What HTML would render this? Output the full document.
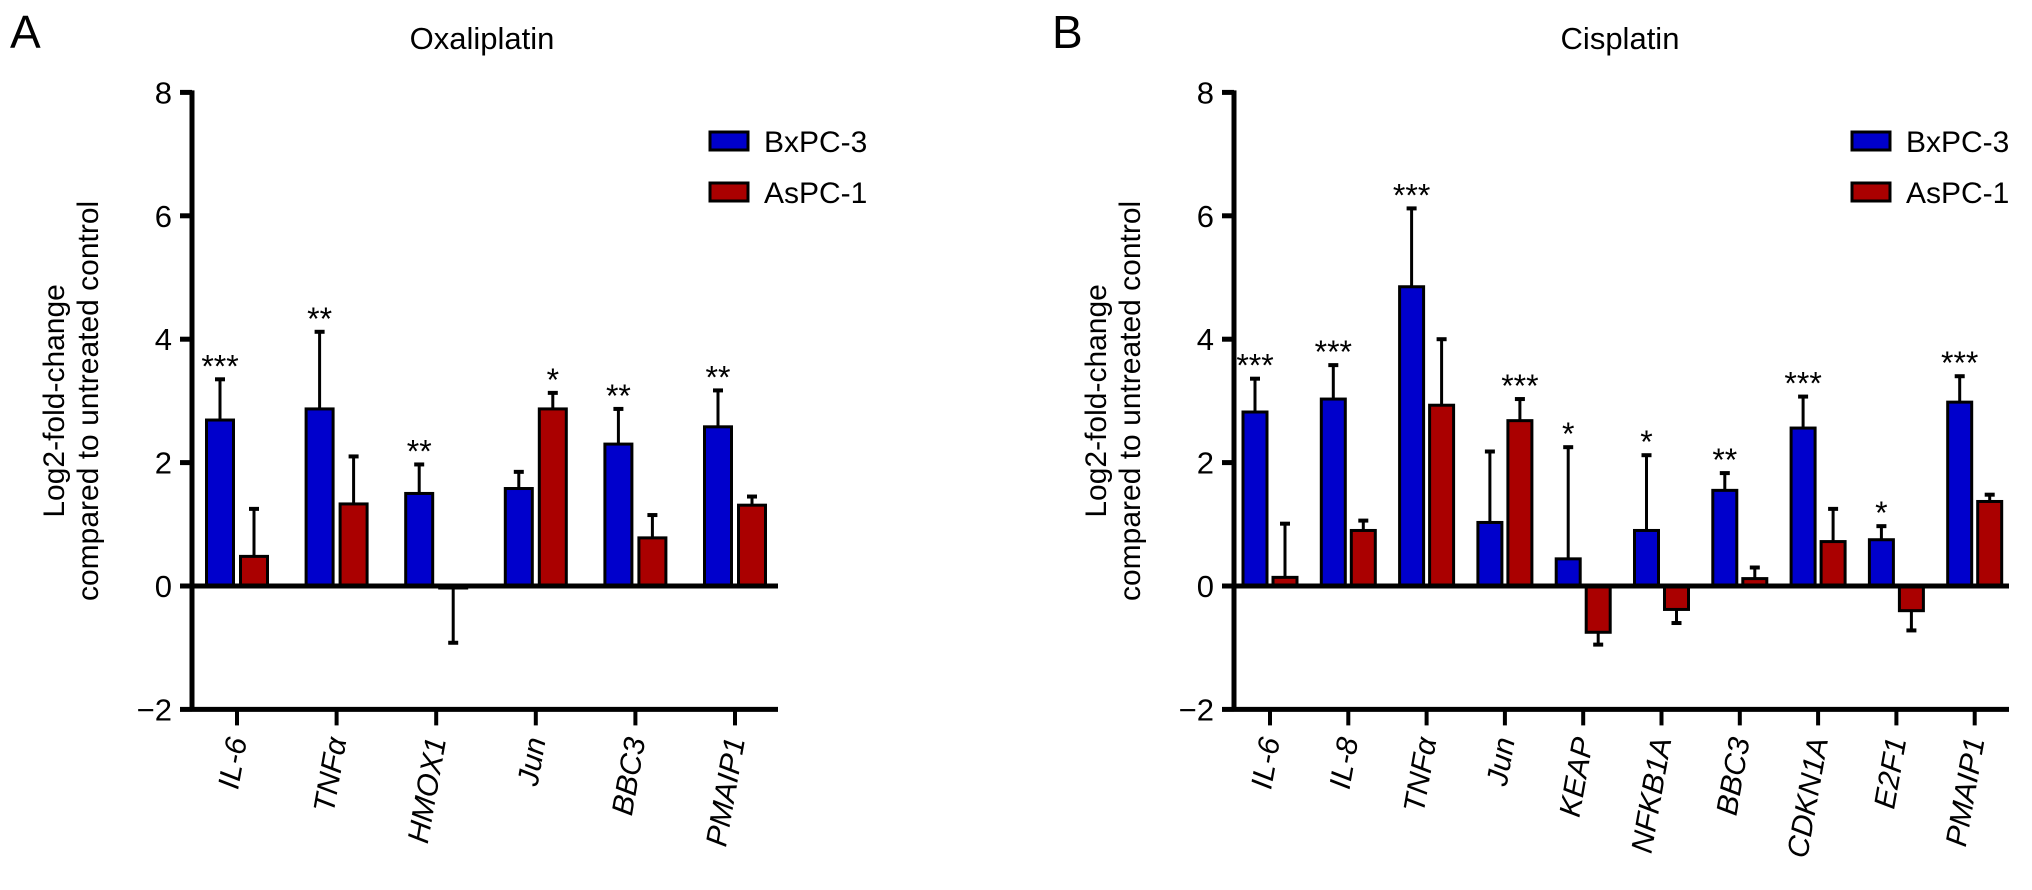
<!DOCTYPE html>
<html><head><meta charset="utf-8"><style>
html,body{margin:0;padding:0;background:#fff;}
svg{display:block;font-family:"Liberation Sans",Arial,sans-serif;}
</style></head><body>
<svg id="fig" width="2032" height="890" viewBox="0 0 2032 890" xmlns="http://www.w3.org/2000/svg"></svg>
<script>
const catsA = ["IL-6","TNF\u03b1","HMOX1","Jun","BBC3","PMAIP1"];
const blueA = [2.69,2.87,1.50,1.58,2.30,2.58];
const blueErrA = [3.35,4.12,1.97,1.85,2.87,3.17];
const redA = [0.48,1.33,-0.02,2.87,0.78,1.31];
const redErrA = [1.25,2.10,-0.92,3.13,1.15,1.45];
const starsA = ["***","**","**","","**","**"];
const starsRedA = ["","","","*","",""];

const catsB = ["IL-6","IL-8","TNF\u03b1","Jun","KEAP","NFKB1A","BBC3","CDKN1A","E2F1","PMAIP1"];
const blueB = [2.82,3.03,4.85,1.03,0.44,0.90,1.55,2.56,0.75,2.98];
const blueErrB = [3.36,3.58,6.12,2.18,2.25,2.12,1.83,3.07,0.97,3.40];
const redB = [0.14,0.90,2.93,2.68,-0.75,-0.38,0.12,0.72,-0.40,1.37];
const redErrB = [1.01,1.06,4.00,3.03,-0.95,-0.60,0.30,1.25,-0.72,1.48];
const starsB = ["***","***","***","","*","*","**","***","*","***"];
const starsRedB = ["","","","***","","","","","",""];

const yTicks = [-2,0,2,4,6,8];
const legendLabels = ["BxPC-3","AsPC-1"];

const NS="http://www.w3.org/2000/svg";
const svg=document.getElementById('fig');
function mk(tag,attrs,parent){const e=document.createElementNS(NS,tag);for(const k in attrs)e.setAttribute(k,attrs[k]);(parent||svg).appendChild(e);return e;}

function panel(p){
  const g=mk('g',{});
  
  
  const y=v=>p.y0-(v)*p.unit;
  const cx=i=>p.x0+i*p.step;
  const L=mk('text',{x:p.letterX,y:48,'font-size':46},g);L.textContent=p.letter;
  
  const T=mk('text',{x:p.titleX,y:49,'font-size':31,'text-anchor':'middle'},g);T.textContent=p.title;
  
  const yl=mk('text',{transform:`translate(${p.axX-120},${y(3)}) rotate(-90)`,'font-size':30,'text-anchor':'middle'},g);
  
  const t1=mk('tspan',{x:0,dy:-8},yl);t1.textContent='Log2-fold-change';
  const t2=mk('tspan',{x:0,dy:34},yl);t2.textContent='compared to untreated control';
  p.cats.forEach((c,i)=>{
    const c0=cx(i);
    [[p.blue,p.blueErr,'#0000cc',-1,p.stars],[p.red,p.redErr,'#aa0000',1,p.starsRed]].forEach(([vals,errs,col,side,st],k)=>{
      const v=vals[i],e=errs[i];
      const bx=side<0?c0-p.gap/2-p.bw:c0+p.gap/2;
      const top=Math.min(y(v),y(0)),h=Math.abs(y(v)-y(0));
      const mid=bx+p.bw/2;
      const el=mk('line',{x1:mid,x2:mid,y1:y(v),y2:y(e),stroke:'#000','stroke-width':3},g);
      
      const cap=mk('line',{x1:mid-5,x2:mid+5,y1:y(e),y2:y(e),stroke:'#000','stroke-width':4},g);
      
      const r=mk('rect',{x:bx,y:top,width:p.bw,height:Math.max(h,2),fill:col,stroke:'#000','stroke-width':3},g);
      
      
      if(st[i]){
        const s=mk('text',{x:mid,y:y(Math.max(e,v))-2,'font-size':32,'text-anchor':'middle'},g);
        s.textContent=st[i];
        
      }
    });
    const tk=mk('line',{x1:c0,x2:c0,y1:y(-2),y2:y(-2)+16,stroke:'#000','stroke-width':4},g);
    
    const lb=mk('text',{transform:`translate(${c0+10},${y(-2)+30}) rotate(-80)`,'font-size':30,'font-style':'italic','text-anchor':'end'},g);
    lb.textContent=c;
    
  });
  const za=mk('line',{x1:p.axX,x2:p.axEnd,y1:y(0),y2:y(0),stroke:'#000','stroke-width':5},g);
  
  const xa=mk('line',{x1:p.axX,x2:p.axEnd,y1:y(-2),y2:y(-2),stroke:'#000','stroke-width':5},g);
  
  const ya=mk('line',{x1:p.axX,x2:p.axX,y1:y(8)-2,y2:y(-2)+2,stroke:'#000','stroke-width':5},g);
  
  yTicks.forEach(t=>{
    const l=mk('line',{x1:p.axX-12,x2:p.axX,y1:y(t),y2:y(t),stroke:'#000','stroke-width':5},g);
    
    const tx=mk('text',{x:p.axX-20,y:y(t)+11,'font-size':31,'text-anchor':'end'},g);
    tx.textContent=t<0?'\u2212'+(-t):String(t);
    
  });
  ['#0000cc','#aa0000'].forEach((col,i)=>{
    const ly=p.legY+i*51;
    const r=mk('rect',{x:p.legX,y:ly,width:38,height:18,fill:col,stroke:'#000','stroke-width':3},g);
    
    const tx=mk('text',{x:p.legX+54,y:ly+20,'font-size':30},g);tx.textContent=legendLabels[i];
    
  });
}
panel({name:'panel-a-oxaliplatin',letter:'A',letterX:10,title:'Oxaliplatin',titleX:482,cats:catsA,blue:blueA,blueErr:blueErrA,red:redA,redErr:redErrA,stars:starsA,starsRed:starsRedA,
  axX:192,axEnd:778,y0:586,unit:61.7,x0:237,step:99.6,bw:27,gap:7,legX:710,legY:132});
panel({name:'panel-b-cisplatin',letter:'B',letterX:1052,title:'Cisplatin',titleX:1620,cats:catsB,blue:blueB,blueErr:blueErrB,red:redB,redErr:redErrB,stars:starsB,starsRed:starsRedB,
  axX:1234,axEnd:2009,y0:586,unit:61.7,x0:1270,step:78.3,bw:24,gap:6,legX:1852,legY:132});
</script>
</body></html>
